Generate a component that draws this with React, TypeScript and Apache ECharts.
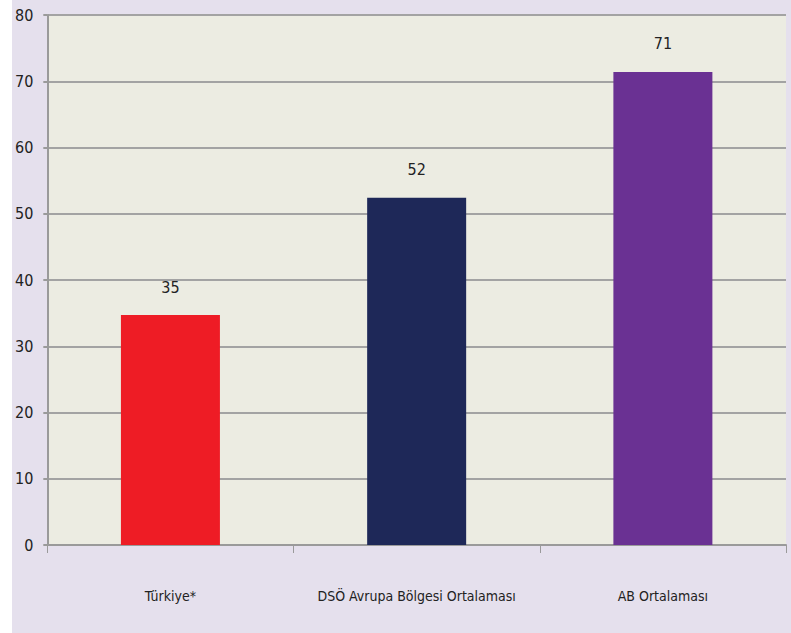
import React, { useEffect, useRef } from "react";
import * as echarts from "echarts";

const categories = ["Türkiye*", "DSÖ Avrupa Bölgesi Ortalaması", "AB Ortalaması"];
const values = [34.7, 52.4, 71.4];
const barColors = ["#ee1c25", "#1e2858", "#6a3193"];
const yTicks = { min: 0, max: 80, interval: 10 };

export default function App() {
  const ref = useRef<HTMLDivElement>(null);
  useEffect(() => {
    if (!ref.current) return;
    const chart = echarts.init(ref.current, undefined, { renderer: "svg" });
    const font = "'Liberation Sans Narrow', 'Arial Narrow', 'DejaVu Sans Condensed', sans-serif";
    chart.setOption({
      animation: false,
      backgroundColor: "#e5e0ed",
      grid: {
        left: 34,
        right: 5,
        top: 15,
        bottom: 88,
        show: true,
        backgroundColor: "#ecece2",
        borderWidth: 0,
      },
      xAxis: {
        type: "category",
        data: categories,
        axisLine: { show: true, lineStyle: { color: "#9a9a9a", width: 2 } },
        axisTick: { show: true, length: 8, lineStyle: { color: "#9a9a9a", width: 1 } },
        axisLabel: { interval: 0, margin: 44, color: "#222", fontSize: 14, fontFamily: font },
      },
      yAxis: {
        type: "value",
        min: yTicks.min,
        max: yTicks.max,
        interval: yTicks.interval,
        axisLine: { show: true, lineStyle: { color: "#9a9a9a", width: 2 } },
        axisTick: { show: true, length: 4, lineStyle: { color: "#9a9a9a", width: 2 } },
        splitLine: { show: true, lineStyle: { color: "#a3a3a3", width: 2 } },
        axisLabel: { margin: 14, color: "#222", fontSize: 16, fontFamily: font },
      },
      series: [
        {
          type: "bar",
          data: values.map((v, i) => ({ value: v, itemStyle: { color: barColors[i] } })),
          barWidth: 99,
          label: {
            show: true,
            position: "top",
            distance: 20,
            color: "#222",
            fontSize: 16,
            fontFamily: font,
            formatter: (p: any) => String(Math.round(p.value)),
          },
        },
      ],
    });
    return () => chart.dispose();
  }, []);
  return (
    <div
      ref={ref}
      style={{ position: "fixed", left: 12, top: 0, width: 779, height: 633 }}
    />
  );
}
